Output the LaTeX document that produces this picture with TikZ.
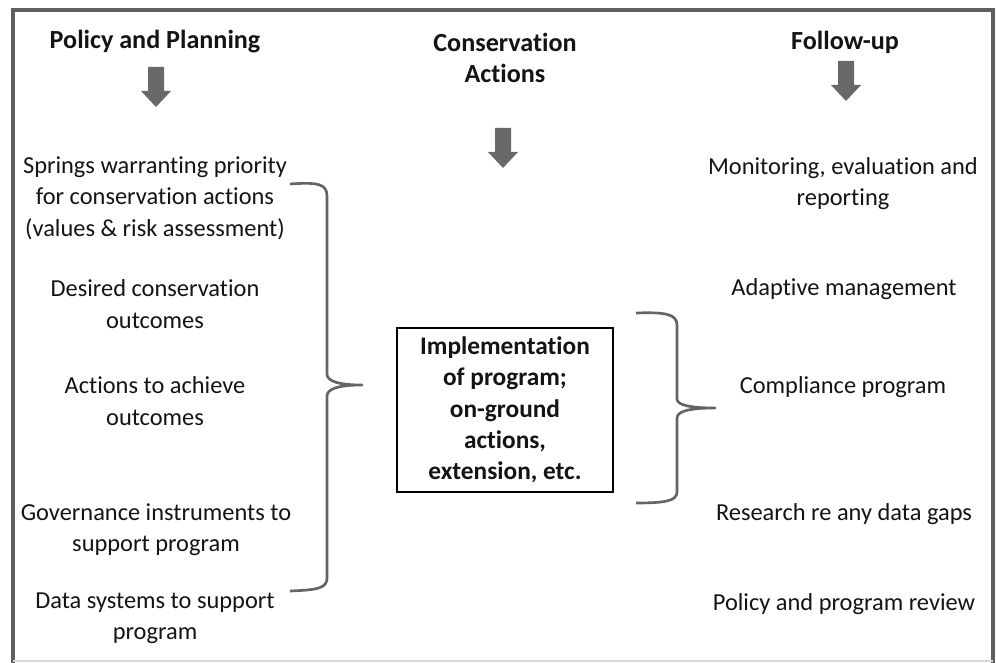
\documentclass[tikz,border=0pt]{standalone}
\usepackage{fontspec}
\setmainfont{Carlito}[Ligatures=NoCommon]
\definecolor{framegray}{RGB}{95,95,95}
\definecolor{arrowgray}{RGB}{105,105,105}
\definecolor{bracegray}{RGB}{100,100,100}
\definecolor{txt}{RGB}{20,20,20}
\begin{document}
\begin{tikzpicture}[x=0.75pt,y=-0.75pt,
  lbl/.style={align=center,text=txt,inner sep=0pt,font=\fontsize{18.3}{23.5}\selectfont},
  head/.style={lbl,font=\fontsize{19.6}{23.8}\selectfont\bfseries},
  boxed/.style={draw=black,line width=0.8pt,minimum width=216*0.75pt,minimum height=164*0.75pt,align=center,text=txt,inner sep=0pt,font=\fontsize{19}{23.5}\selectfont\bfseries},
  bracestyle/.style={draw=bracegray,line width=2pt,line join=round},
  downarr/.pic={\fill[arrowgray] (-8,0) -- (8,0) -- (8,24) -- (15,24) -- (0,40) -- (-15,24) -- (-8,24) -- cycle;}]
\useasboundingbox (0,0) rectangle (996,663);
\fill[white] (0,0) rectangle (996,663);
% frame
\draw[framegray,line width=3pt] (13,663) -- (13,10) -- (993,10) -- (993,663);
\draw[gray!30,line width=0.8pt] (13,661) -- (993,661);
% headings
\node[head] (hpol) at (155,42) {Policy and Planning};
\node[head] (hcon) at (505,58) {Conservation\\Actions};
\node[head] (hfol) at (845,42) {Follow-up};
\pic at (156,67) {downarr};
\pic at (503,128) {downarr};
\pic at (846,61) {downarr};
% left column
\node[lbl] (l1) at (155,198) {Springs warranting priority\\for conservation actions\\(values \& risk assessment)};
\node[lbl] (l2) at (155,304) {Desired conservation\\outcomes};
\node[lbl] (l3) at (155,401) {Actions to achieve\\outcomes};
\node[lbl] (l4) at (156,530) {Governance instruments to\\support program};
\node[lbl] (l5) at (155,618) {Data systems to support\\program};
% center box
\node[boxed] (impl) at (505,410) {Implementation\\of program;\\on-ground\\actions,\\extension, etc.};
% right column
\node[lbl] (r1) at (843,183.5) {Monitoring, evaluation and\\reporting};
\node[lbl] (r2) at (844,289) {Adaptive management};
\node[lbl] (r3) at (843,387) {Compliance program};
\node[lbl] (r4) at (844,514) {Research re any data gaps};
\node[lbl] (r5) at (844,604) {Policy and program review};
% left brace
\draw[bracestyle] (290,184) .. controls (318,182) and (327,184) .. (327,196) -- (327,374)
  .. controls (327,381) and (338,385) .. (362,385)
  .. controls (338,385) and (327,389) .. (327,396) -- (327,578)
  .. controls (327,588) and (318,590) .. (290,591);
% right brace
\draw[bracestyle] (636,313) .. controls (665,312) and (677,314) .. (677,325) -- (677,399)
  .. controls (677,405) and (690,408) .. (715,408)
  .. controls (690,408) and (677,411) .. (677,418) -- (677,492)
  .. controls (677,501) and (665,503) .. (636,503);
\end{tikzpicture}
\end{document}
